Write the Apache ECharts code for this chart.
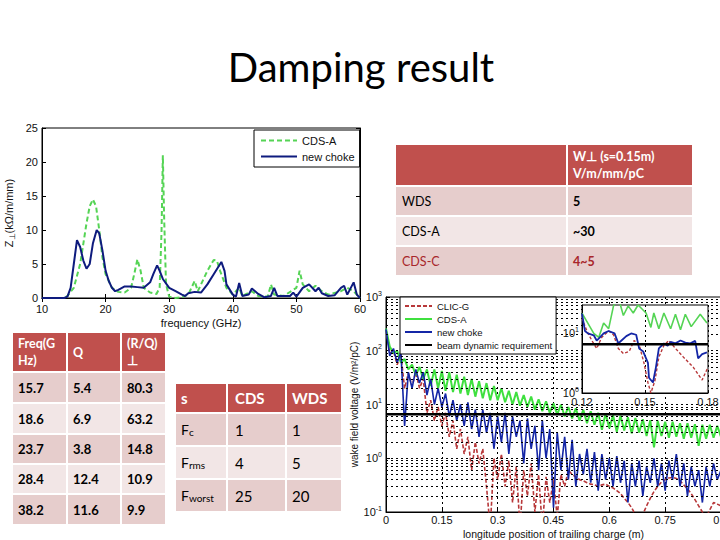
<!DOCTYPE html>
<html><head><meta charset="utf-8">
<script src="https://cdn.jsdelivr.net/npm/echarts/dist/echarts.min.js"></script>
<style>html,body{margin:0;padding:0;background:#fff}#c{width:720px;height:540px}</style>
</head><body><div id="c"></div>
<script>
// ---------- Impedance chart (top-left) ----------
const freqCDSA = [10,13.5,14,15,16,16.5,17,17.5,18,18.5,19,19.5,20,21,22,23,24,24.5,25,25.5,26,27,28,28.5,28.8,29,29.2,29.5,30,31,32,33,33.5,34,34.5,35,36,37,37.5,38,39,40,41,41.5,43,44,45.5,46,46.5,48,50,50.5,51,52,53,54,55,57,58,59,60];
const zCDSA    = [0,0,0.3,1.5,5,8,11,13.5,14.5,13.5,10,6,3.5,1.5,0.9,0.8,1.5,3.5,5.7,4,1.5,0.8,0.6,1.5,10,21,12,2,0.2,0,0.1,0.5,1.5,2.5,1,2,4,5.6,5.5,4,1.5,0.5,1.5,0.3,1,0.3,0.2,2,0.5,0.3,1.5,4,2,1,1.8,1,0.5,1,1.5,1,0];
const freqChoke = [10,13.5,14,14.5,15,15.5,16,16.5,17,17.5,18,18.6,19,19.5,20,20.5,21,21.5,22,23,24,25,26,27,27.5,28.1,28.5,29,30,31,32,32.5,33,34,35,36,37,38.2,38.7,39,40,40.5,41,41.5,42.5,43,44,45,46,46.5,47,49,49.5,50,51,52,53,53.5,54,55,56,57,57.5,58,59,59.5,60];
const zChoke    = [0,0,0.2,1.5,5,8.5,7.5,5.5,4.3,5,8,10,9.5,7,4,2.5,1.5,1,1.2,1.7,1.7,1.6,1.5,2.3,3.5,4.8,4,2.8,1.5,1,0.5,0.3,0.7,0.9,0.8,2,3.5,5.3,4,2,0.5,0.2,2.2,0.3,0.5,1.4,0.6,0.1,0.3,1.5,0.3,0.3,0.8,0.2,1.5,2,1,1.5,0.7,0.3,0.4,1.5,1.8,0.5,2.3,0.5,0];

// ---------- Wake chart (bottom-right) ----------
const wakePos = [0,0.01,0.02,0.03,0.04,0.05,0.06,0.07,0.08,0.09,0.10,0.11,0.12,0.13,0.14,0.15,0.16,0.17,0.18,0.19,0.20,0.21,0.22,0.23,0.24,0.25,0.26,0.27,0.28,0.29,0.30,0.31,0.32,0.33,0.34,0.35,0.36,0.37,0.38,0.39,0.40,0.41,0.42,0.43,0.44,0.45,0.46,0.47,0.48,0.49,0.50,0.51,0.52,0.53,0.54,0.55,0.56,0.57,0.58,0.59,0.60,0.61,0.62,0.63,0.64,0.65,0.66,0.67,0.68,0.69,0.70,0.71,0.72,0.73,0.74,0.75,0.76,0.77,0.78,0.79,0.80,0.81,0.82,0.83,0.84,0.85,0.86,0.87,0.88,0.89,0.90];
const wakeCLICG = [250,90,100,55,85,20,38,22,40,20,30,7,12,5,9,4,7,2.5,5,1.5,3.5,1.2,2.5,0.6,2,0.8,1.5,0.3,0.05,1.0,0.4,1.2,0.3,0.9,0.15,0.7,0.05,0.6,0.2,0.8,0.1,0.5,0.05,0.45,0.15,0.4,0.08,0.5,0.3,0.6,0.5,0.45,0.4,0.38,0.35,0.33,0.32,0.3,0.32,0.33,0.3,0.28,0.25,0.22,0.18,0.15,0.12,0.09,0.07,0.09,0.13,0.18,0.24,0.3,0.36,0.4,0.43,0.44,0.42,0.38,0.32,0.27,0.22,0.17,0.13,0.1,0.08,0.11,0.15,0.14,0.13];
const wakeCDSA = [260,120,90,100,60,70,45,55,35,50,30,45,22,45,20,42,18,40,17,36,16,33,15,30,14,27,13,25,12,22,12,20,11,18,10,17,9.5,15,9,14,8,12.5,7.5,11.5,7,10.5,6.5,10,6,9,5.5,8.5,5,8,4.5,7.5,4.2,7,3.4,6.8,3.6,6.3,3.1,6.2,3.3,5.8,2.9,5.6,3,5.3,2.6,5.1,1.6,5,2.6,4.8,2.4,4.8,2.5,4.5,2.3,4.5,2.4,4.3,1.7,4.2,2.3,4.2,2.4,4,2.5];
const wakeChoke = [250,80,110,60,95,4,40,20,45,25,40,15,30,10,20,9,16,6,12,5,10,4,11,3.5,8,2.5,8,3,7,1.5,6,2,7,1.2,6,2.5,5,0.8,5.5,1.5,4,0.6,5,1,3.5,0.12,3,0.6,2.5,0.4,2.2,0.3,1.2,0.5,1.5,0.35,1.3,0.25,1.2,0.4,1.0,0.3,1.1,0.35,0.9,0.15,0.8,0.3,0.9,0.2,0.7,0.35,1.0,0.3,0.8,0.25,0.9,0.4,1.2,0.3,0.8,0.2,0.7,0.3,0.6,0.15,0.7,0.3,0.8,0.4,0.6];
const requirement = 6.6;

// ---------- Inset (zoom 0.12-0.18 m) ----------
const insetCLICG = [[0.12,18],[0.1223,11],[0.1247,7.6],[0.127,5.6],[0.1294,8.6],[0.1327,11],[0.135,9.5],[0.1373,5.6],[0.1397,4.6],[0.1425,5],[0.1448,7.6],[0.1472,6.5],[0.1495,3.2],[0.1514,1.5],[0.1528,1.0],[0.1547,1.6],[0.1566,4],[0.159,6.3],[0.1613,7.6],[0.1645,5.6],[0.1683,4],[0.173,2.7],[0.1772,1.65],[0.18,2.7]];
const insetCDSA = [[0.12,22],[0.1256,10],[0.128,8.6],[0.1303,15],[0.1327,12],[0.135,29],[0.1373,40],[0.1397,20],[0.142,29],[0.1444,22],[0.1467,30],[0.1505,22],[0.1528,12.6],[0.1542,22],[0.1566,12],[0.159,22],[0.1622,12],[0.1645,21],[0.1669,11.5],[0.1692,21],[0.172,13],[0.1763,21],[0.1795,15]];
const insetChoke = [[0.12,21.5],[0.1214,11],[0.1228,10],[0.1256,9.3],[0.127,7.6],[0.1284,8.5],[0.1303,10],[0.1327,11],[0.1355,10],[0.1373,6.8],[0.1388,7.6],[0.1411,9],[0.1434,10],[0.1458,9.5],[0.1472,5.6],[0.1491,5],[0.1514,3.2],[0.1519,1.8],[0.1538,1.5],[0.1552,2.7],[0.1566,5.6],[0.159,6.8],[0.1608,6.2],[0.1622,7.2],[0.1645,6.8],[0.1669,7.6],[0.1692,7],[0.1716,6.8],[0.1739,7.5],[0.1753,3.8],[0.1772,4.5],[0.1795,4.8]];

// ---------- Tables ----------
const t1Header = ['', 'W\u22A5 (s=0.15m)\nV/m/mm/pC'];
const t1Rows = [['WDS','5'],['CDS-A','~30'],['CDS-C','4~5']];
const t2Header = ['Freq(G\nHz)','Q','(R/Q)\n\u22A5'];
const t2Rows = [['15.7','5.4','80.3'],['18.6','6.9','63.2'],['23.7','3.8','14.8'],['28.4','12.4','10.9'],['38.2','11.6','9.9']];
const t3Header = ['s','CDS','WDS'];
const t3Rows = [['F','c','1','1'],['F','rms','4','5'],['F','worst','25','20']];

const names = {Z_CDSA:'CDS-A', Z_choke:'new choke', W_CLICG:'CLIC-G', W_CDSA:'CDS-A', W_choke:'new choke', W_req:'beam dynamic requirement'};
const zip = (a,b)=>a.map((v,i)=>[v,b[i]]);

const HEAD='#C0504D', DARK='#E6CDCC', LIGHT='#F2E6E6', TF='Lato, "Open Sans", sans-serif';
const gfx = [];
function cell(x,y,w,h,fill){ gfx.push({type:'rect', shape:{x:x,y:y,width:w,height:h}, style:{fill:fill, stroke:'#fff', lineWidth:2}, z:1}); }
function txt(x,y,text,st){ gfx.push({type:'text', x:x, y:y, style:Object.assign({text:text, fill:'#000', fontSize:13, fontFamily:TF, verticalAlign:'middle', align:'left', lineHeight:17}, st||{}), z:2}); }

// title
gfx.push({type:'text', x:361, y:67, style:{text:'Damping result', fontSize:40, fontFamily:TF, fill:'#000', align:'center', verticalAlign:'middle'}, z:2});

// table 1 (top-right)
(function(){
  const xs=[395,567,693], ys=[144,186,216,246,276];
  cell(xs[0],ys[0],xs[1]-xs[0],ys[1]-ys[0],HEAD); cell(xs[1],ys[0],xs[2]-xs[1],ys[1]-ys[0],HEAD);
  txt(573,(ys[0]+ys[1])/2,t1Header[1],{fill:'#fff',fontSize:12.5,fontWeight:'bold'});
  t1Rows.forEach((r,i)=>{
    const f = i%2===0?DARK:LIGHT, col = i===2?'#A8262A':'#000';
    cell(xs[0],ys[i+1],xs[1]-xs[0],ys[i+2]-ys[i+1],f); cell(xs[1],ys[i+1],xs[2]-xs[1],ys[i+2]-ys[i+1],f);
    txt(402,(ys[i+1]+ys[i+2])/2,r[0],{fill:col,fontSize:12.5});
    txt(573,(ys[i+1]+ys[i+2])/2,r[1],{fill:col,fontSize:12.5,fontWeight:'bold'});
  });
})();
// table 2 (bottom-left)
(function(){
  const xs=[12,67,121,166], ys=[332,372,403,434,464,494,525], tx=[18,73,127];
  for(let c=0;c<3;c++){ cell(xs[c],ys[0],xs[c+1]-xs[c],ys[1]-ys[0],HEAD); txt(tx[c],(ys[0]+ys[1])/2,t2Header[c],{fill:'#fff',fontWeight:'bold',fontSize:12.5}); }
  t2Rows.forEach((r,i)=>{ const f=i%2===0?DARK:LIGHT;
    for(let c=0;c<3;c++){ cell(xs[c],ys[i+1],xs[c+1]-xs[c],ys[i+2]-ys[i+1],f); txt(tx[c],(ys[i+1]+ys[i+2])/2,r[c],{fontWeight:'bold',fontSize:13}); }
  });
})();
// table 3 (middle)
(function(){
  const xs=[175,227,286,342], ys=[383,413,446,479,512], tx=[181,235,292];
  for(let c=0;c<3;c++){ cell(xs[c],ys[0],xs[c+1]-xs[c],ys[1]-ys[0],HEAD); txt(tx[c],(ys[0]+ys[1])/2,t3Header[c],{fill:'#fff',fontWeight:'bold',fontSize:15}); }
  t3Rows.forEach((r,i)=>{ const f=i%2===0?DARK:LIGHT, ym=(ys[i+1]+ys[i+2])/2;
    for(let c=0;c<3;c++) cell(xs[c],ys[i+1],xs[c+1]-xs[c],ys[i+2]-ys[i+1],f);
    txt(tx[0],ym,'{a|'+r[0]+'}{b|'+r[1]+'}',{rich:{a:{fontSize:14,fontFamily:TF,fill:'#000'},b:{fontSize:10,fontFamily:TF,fill:'#000',padding:[5,0,0,0]}}});
    txt(tx[1],ym,r[2],{fontSize:15}); txt(tx[2],ym,r[3],{fontSize:15});
  });
})();

// gridline helper values (dotted minor log grid)
const mainGrid=[], insetGrid=[];
for(let e=-1;e<=2;e++) for(let m=1;m<=9;m++){ const v=m*Math.pow(10,e); if(!(e===-1&&m===1)) mainGrid.push({yAxis:+v.toPrecision(3)}); }
[2,3,4,5,6,7,8,9,10,20].forEach(v=>insetGrid.push({yAxis:v}));

const AF = '"Liberation Sans", Arial, sans-serif';
const lab = {fontSize:11, fontFamily:AF, color:'#111'};
const supFmt = v => { const e=Math.log10(v), r=Math.round(e); return Math.abs(e-r)>0.01 ? '' : '{b|10}{s|'+r+'}'; };
const supRich = {b:{fontSize:11,fontFamily:AF,color:'#111'}, s:{fontSize:7,fontFamily:AF,color:'#111',padding:[0,0,8,0]}};
const dotted = {color:'#000', type:[2,3], width:1};

const chart = echarts.init(document.getElementById('c'), null, {renderer:'svg'});
chart.setOption({
  animation:false,
  backgroundColor:'#fff',
  graphic: gfx,
  grid:[
    {left:42, top:128, width:318, height:170, outerBoundsMode:'none', containLabel:false, show:true, borderColor:'#000', borderWidth:1, backgroundColor:'transparent'},
    {left:386, top:297, width:335, height:215, outerBoundsMode:'none', containLabel:false, show:true, borderColor:'#000', borderWidth:1, backgroundColor:'transparent'},
    {left:582, top:305, width:126, height:88, outerBoundsMode:'none', containLabel:false, show:true, borderColor:'#000', borderWidth:1, backgroundColor:'#fff', z:6}
  ],
  legend:[
    {data:['Z_CDSA','Z_choke'], formatter:n=>names[n], left:254, top:130, orient:'vertical', itemWidth:36, itemHeight:10, itemGap:5, padding:[5,5,5,6], backgroundColor:'#fff', borderColor:'#000', borderWidth:1, itemStyle:{opacity:0}, textStyle:{fontSize:11,fontFamily:AF,color:'#111'}, selectedMode:false},
    {data:['W_CLICG','W_CDSA','W_choke','W_req'], formatter:n=>names[n], left:400, top:297, orient:'vertical', itemWidth:27, itemHeight:9, itemGap:3, padding:[4,4,4,4], backgroundColor:'#fff', borderColor:'#000', borderWidth:1, itemStyle:{opacity:0}, textStyle:{fontSize:9.5,fontFamily:AF,color:'#111'}, selectedMode:false, z:20}
  ],
  xAxis:[
    {gridIndex:0, type:'value', min:10, max:60, interval:10, name:'frequency (GHz)', nameLocation:'middle', nameGap:19, nameTextStyle:{fontSize:11,fontFamily:AF,color:'#111'},
     axisLine:{lineStyle:{color:'#000'}}, axisTick:{inside:true,length:4,lineStyle:{color:'#000'}}, axisLabel:Object.assign({margin:5},lab), splitLine:{show:false}},
    {gridIndex:0, type:'value', min:10, max:60, interval:10, position:'top', axisLine:{lineStyle:{color:'#000'}}, axisTick:{inside:true,length:4,lineStyle:{color:'#000'}}, axisLabel:{show:false}, splitLine:{show:false}},
    {gridIndex:1, type:'value', min:0, max:0.9, interval:0.15, name:'longitude position of trailing charge (m)', nameLocation:'middle', nameGap:16, nameTextStyle:{fontSize:10.5,fontFamily:AF,color:'#111'},
     axisLine:{lineStyle:{color:'#000'}}, axisTick:{inside:true,length:4,lineStyle:{color:'#000'}}, axisLabel:Object.assign({margin:2},lab), splitLine:{show:true,lineStyle:dotted}},
    {gridIndex:2, type:'value', min:0.12, max:0.18, interval:0.03, z:7, axisLine:{lineStyle:{color:'#000'}}, axisTick:{inside:true,length:3,lineStyle:{color:'#000'}}, axisLabel:Object.assign({margin:3},lab), splitLine:{show:true,lineStyle:dotted}}
  ],
  yAxis:[
    {gridIndex:0, type:'value', min:0, max:25, interval:5, name:'{z|Z}{u|\u22A5}{z|(k\u03A9/m/mm)}', nameLocation:'middle', nameGap:26, nameRotate:90,
     nameTextStyle:{rich:{z:{fontSize:11,fontFamily:AF,color:'#111'},u:{fontSize:8,fontFamily:AF,color:'#111',padding:[6,0,0,0]}}},
     axisLine:{lineStyle:{color:'#000'}}, axisTick:{inside:true,length:4,lineStyle:{color:'#000'}}, axisLabel:Object.assign({margin:4},lab), splitLine:{show:false}},
    {gridIndex:0, type:'value', min:0, max:25, interval:5, position:'right', axisLine:{lineStyle:{color:'#000'}}, axisTick:{inside:true,length:4,lineStyle:{color:'#000'}}, axisLabel:{show:false}, splitLine:{show:false}},
    {gridIndex:1, type:'log', logBase:10, min:0.1, max:1000, name:'wake field voltage (V/m\u00B2/pC)', nameLocation:'middle', nameGap:24, nameRotate:90, nameTextStyle:{fontSize:10,fontFamily:AF,color:'#111'},
     axisLine:{lineStyle:{color:'#000'}}, axisTick:{inside:true,length:4,lineStyle:{color:'#000'}}, axisLabel:{margin:4, formatter:supFmt, rich:supRich}, splitLine:{show:false}},
    {gridIndex:2, type:'log', logBase:10, min:1, max:30, z:7, axisLine:{lineStyle:{color:'#000'}}, axisTick:{show:false}, axisLabel:{margin:3, formatter:supFmt, rich:supRich}, splitLine:{show:false}}
  ],
  series:[
    {name:'Z_CDSA', type:'line', xAxisIndex:0, yAxisIndex:0, data:zip(freqCDSA,zCDSA), symbol:'none', color:'#55D455', lineStyle:{color:'#55D455', width:2, type:[5,3]}},
    {name:'Z_choke', type:'line', xAxisIndex:0, yAxisIndex:0, data:zip(freqChoke,zChoke), symbol:'none', color:'#0E1B7E', lineStyle:{color:'#0E1B7E', width:2}},

    {name:'W_CLICG', type:'line', xAxisIndex:2, yAxisIndex:2, data:zip(wakePos,wakeCLICG), symbol:'none', color:'#B8383A', lineStyle:{color:'#B8383A', width:1.6, type:[4,2]},
     markLine:{silent:true, symbol:'none', label:{show:false}, lineStyle:dotted, data:mainGrid}},
    {name:'W_CDSA', type:'line', xAxisIndex:2, yAxisIndex:2, data:zip(wakePos,wakeCDSA), symbol:'none', color:'#3FE03F', lineStyle:{color:'#3FE03F', width:2}},
    {name:'W_choke', type:'line', xAxisIndex:2, yAxisIndex:2, data:zip(wakePos,wakeChoke), symbol:'none', color:'#1426A6', lineStyle:{color:'#1426A6', width:1.6}},
    {name:'W_req', type:'line', xAxisIndex:2, yAxisIndex:2, data:[[0,requirement],[0.9,requirement]], symbol:'none', color:'#000', lineStyle:{color:'#000', width:2.5}},

    {name:'I_CLICG', type:'line', xAxisIndex:3, yAxisIndex:3, z:8, data:insetCLICG, symbol:'none', lineStyle:{color:'#B8383A', width:1.4, type:[3,2]},
     markLine:{silent:true, symbol:'none', label:{show:false}, lineStyle:dotted, data:insetGrid}},
    {name:'I_CDSA', type:'line', xAxisIndex:3, yAxisIndex:3, z:8, data:insetCDSA, symbol:'none', lineStyle:{color:'#55D455', width:1.6}},
    {name:'I_choke', type:'line', xAxisIndex:3, yAxisIndex:3, z:8, data:insetChoke, symbol:'none', lineStyle:{color:'#1426A6', width:1.8}},
    {name:'I_req', type:'line', xAxisIndex:3, yAxisIndex:3, z:8, data:[[0.12,requirement],[0.18,requirement]], symbol:'none', lineStyle:{color:'#000', width:2.5}}
  ]
});
</script></body></html>
